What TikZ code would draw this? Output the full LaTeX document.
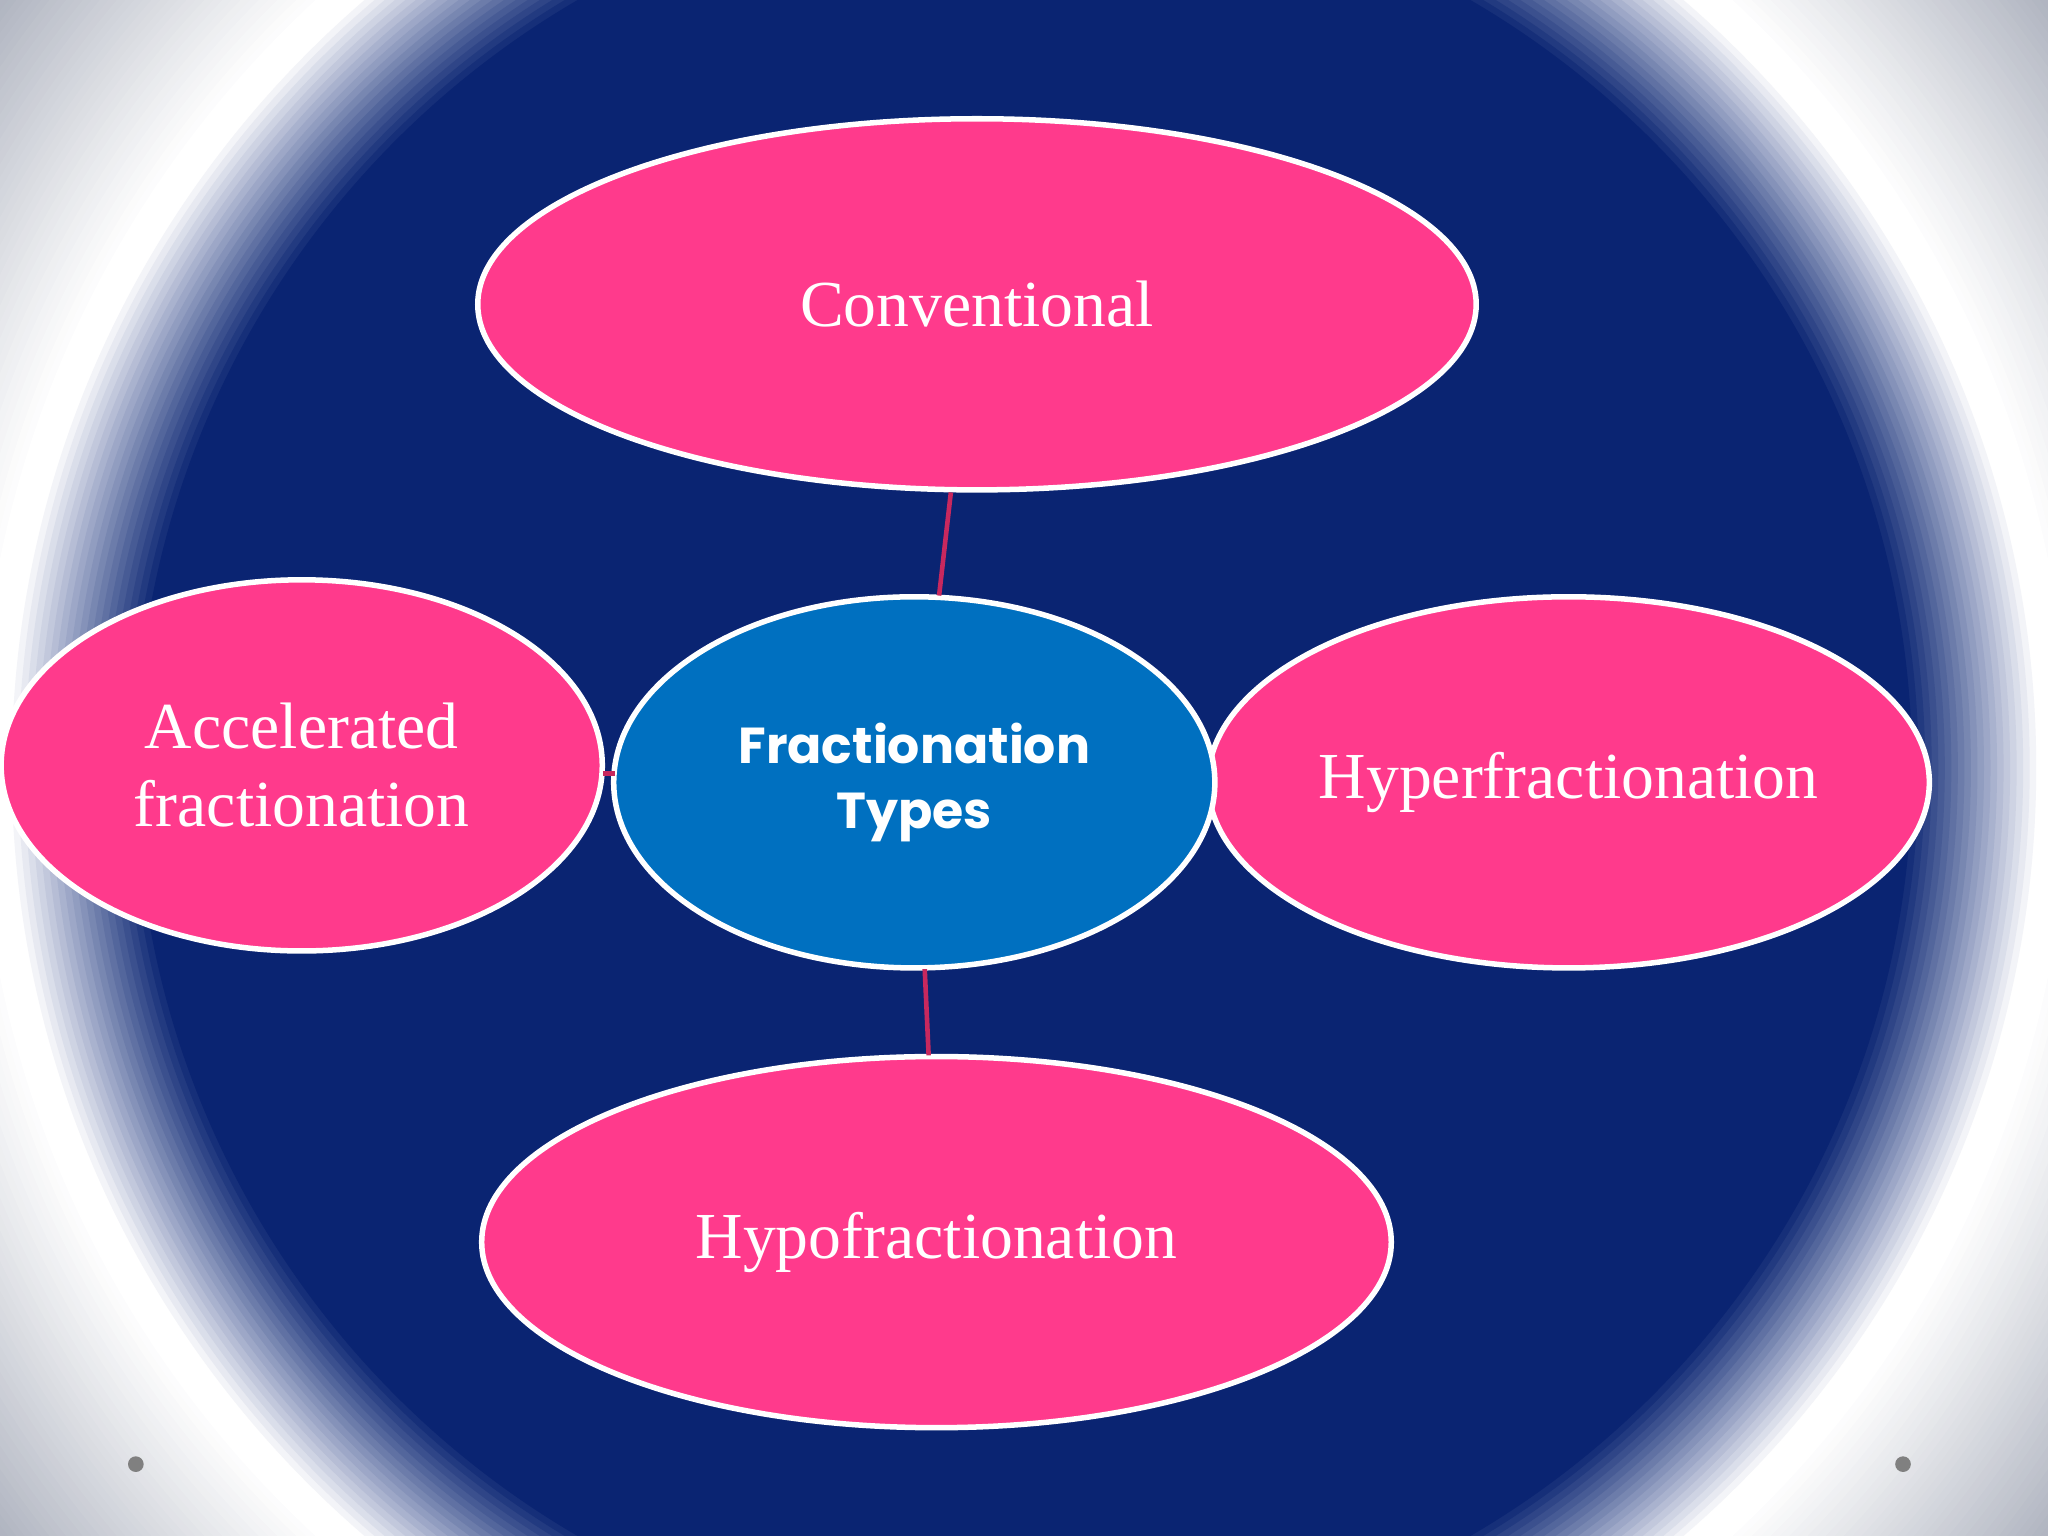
\documentclass[tikz,border=0pt]{standalone}
\usepackage{fontspec}
\setmainfont{Liberation Serif}
\newfontfamily\poppins{Poppins}
\usetikzlibrary{shapes.geometric}
\definecolor{navy}{HTML}{0A2472}
\definecolor{pinkf}{HTML}{FF3A8C}
\definecolor{bluef}{HTML}{0070C0}
\definecolor{linec}{HTML}{C8285E}
\definecolor{edgegray}{HTML}{A8ADBA}
\tikzset{
  bub/.style={ellipse, draw=white, line width=1.2pt, fill=pinkf, inner sep=0pt, text=white, align=center, font=\fontsize{14.3}{17}\selectfont},
  conn/.style={draw=linec, line width=1pt}
}
\begin{document}
\begin{tikzpicture}[x=0.01cm,y=-0.01cm]
\useasboundingbox (0,0) rectangle (1568,1176);
\begin{scope}
\clip (0,0) rectangle (1568,1176);
\fill[edgegray] (0,0) rectangle (1568,1176);
\foreach \r in {1000,995,...,780}{
  \pgfmathtruncatemacro{\q}{min(100,(1000-\r)/2)}
  \fill[white!\q!edgegray] (784,588) circle (\r);
}
\foreach \r in {775,770,...,680}{
  \pgfmathtruncatemacro{\p}{(780-\r)}
  \fill[navy!\p!white] (784,588) circle (\r);
}
\end{scope}
\fill[gray] (104,1121) circle (6);
\fill[gray] (1457,1121) circle (6);
\node[bub, minimum width=7.64cm, minimum height=2.84cm] (conv) at (748,233) {Conventional};
\node[bub, minimum width=4.6cm, minimum height=2.84cm] (acc) at (231,586) {Accelerated\\fractionation};
\node[bub, minimum width=5.52cm, minimum height=2.84cm] (hyper) at (1201,599) {Hyperfractionation};
\node[bub, minimum width=6.96cm, minimum height=2.84cm] (hypo) at (717,951) {Hypofractionation};
\node[bub, fill=bluef, minimum width=4.6cm, minimum height=2.84cm, font=\poppins\bfseries\fontsize{11}{14}\selectfont] (center) at (700,599) {Fractionation\\Types};
\coordinate (c1a) at (728,377); \coordinate (c1b) at (719,456);
\coordinate (c2a) at (708,742); \coordinate (c2b) at (711,808);
\coordinate (c3a) at (462,592); \coordinate (c3b) at (471,592);
\draw[conn] (c1a) -- (c1b);
\draw[conn] (c2a) -- (c2b);
\draw[conn] (c3a) -- (c3b);
\end{tikzpicture}
\end{document}
